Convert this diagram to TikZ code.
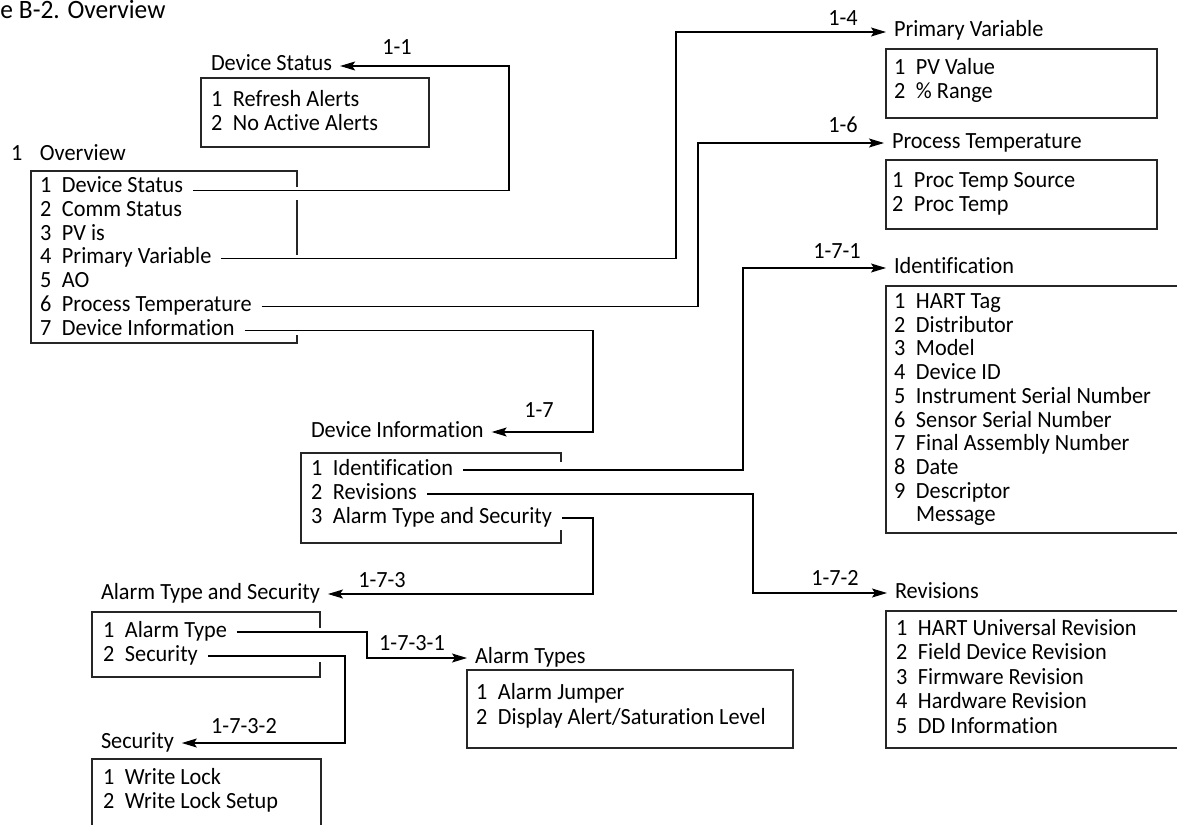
\documentclass[tikz,border=0pt]{standalone}
\usepackage{fontspec}
\setmainfont[Ligatures=NoCommon, FakeStretch=0.96]{Carlito}
\usetikzlibrary{positioning,calc,arrows.meta}

\begin{document}
\begin{tikzpicture}[x=1pt, y=-1pt, line width=1pt]
\tikzstyle{tStyle}=[anchor=west, inner sep=0pt, outer sep=0pt, text height=15pt,
text depth=5pt, font=\fontsize{23.2}{24}\selectfont]
\tikzstyle{iStyle}=[tStyle]
\tikzstyle{lStyle}=[inner sep=0pt, outer sep=0pt, font=\fontsize{23.2}{24}\selectfont]
\tikzstyle{bStyle}=[line width=1.2pt, black!85]
\tikzstyle{aStyle}=[-{Stealth[length=15pt,width=9pt,inset=3pt]}, line width=1.1pt,
shorten <=10pt, shorten >=8pt]

\clip (0,0) rectangle (1177,824);

\draw (0,19) node[anchor=base west, inner sep=0pt,
  font=\fontsize{26.5}{30}\selectfont] (fig) {e B-2. Overview};

% 1-1
\draw (211,66) node[tStyle] (dst) {Device Status};
\draw[bStyle] (201,78) rectangle (429,147);
\foreach \t [count=\k] in {Refresh Alerts, No Active Alerts}
	\draw (211,{102+24*(\k-1)}) node[iStyle] (dst\k) {\makebox[22pt][l]{\k}\t};

% 1
\draw (11,155) node[tStyle] (ov) {\makebox[29pt][l]{1}Overview};
\draw[bStyle] (297,187) -- (297,171) -- (31,171) -- (31,343) -- (297,343) -- (297,335)
  (297,200) -- (297,255);
\foreach \t [count=\k] in {Device Status, Comm Status, PV is, Primary Variable, AO,
  Process Temperature, Device Information}
	\draw (40,{187.5+23.8*(\k-1)}) node[iStyle] (ov\k) {\makebox[22pt][l]{\k}\t};

% 1-4
\draw (894,32) node[tStyle] (pv) {Primary Variable};
\draw[bStyle] (886,49) rectangle (1157,118);
\foreach \t [count=\k] in {PV Value, \% Range}
	\draw (894,{70+24*(\k-1)}) node[iStyle] (pv\k) {\makebox[22pt][l]{\k}\t};

% 1-6
\draw (892,143) node[tStyle] (pt) {Process Temperature};
\draw[bStyle] (886,160) rectangle (1157,229);
\foreach \t [count=\k] in {Proc Temp Source, Proc Temp}
	\draw (892,{182+24*(\k-1)}) node[iStyle] (pt\k) {\makebox[22pt][l]{\k}\t};

% 1-7
\draw (311,432) node[tStyle] (di) {Device Information};
\draw[bStyle] (561,462) -- (561,453) -- (301,453) -- (301,543) -- (561,543) -- (561,530);
\foreach \t [count=\k] in {Identification, Revisions, Alarm Type and Security}
	\draw (311,{470+24*(\k-1)}) node[iStyle] (di\k) {\makebox[22pt][l]{\k}\t};

% 1-7-1
\draw (894,268) node[tStyle] (id) {Identification};
\draw[bStyle] (886,286) rectangle (1200,533);
\foreach \t [count=\k] in {HART Tag, Distributor, Model, Device ID, Instrument Serial Number,
  Sensor Serial Number, Final Assembly Number, Date, Descriptor}
	\draw (894,{303.5+23.7*(\k-1)}) node[iStyle] (id\k) {\makebox[22pt][l]{\k}\t};
\draw (894,{303.5+23.7*9}) node[iStyle] (id10) {\makebox[22pt][l]{}Message};

% 1-7-2
\draw (895,593) node[tStyle] (rev) {Revisions};
\draw[bStyle] (886,611) rectangle (1200,748);
\foreach \t [count=\k] in {HART Universal Revision, Field Device Revision, Firmware Revision,
  Hardware Revision, DD Information}
	\draw (896,{630+24.5*(\k-1)}) node[iStyle] (rev\k) {\makebox[22pt][l]{\k}\t};

% 1-7-3
\draw (101,594) node[tStyle] (ats) {Alarm Type and Security};
\draw[bStyle] (320,628) -- (320,612) -- (92,612) -- (92,677) -- (320,677) -- (320,662);
\foreach \t [count=\k] in {Alarm Type, Security}
	\draw (103,{632+24*(\k-1)}) node[iStyle] (ats\k) {\makebox[22pt][l]{\k}\t};

% 1-7-3-1
\draw (475,658) node[tStyle] (atp) {Alarm Types};
\draw[bStyle] (467,670) rectangle (793,748);
\foreach \t [count=\k] in {Alarm Jumper, Display Alert/Saturation Level}
	\draw (476,{694+25*(\k-1)}) node[iStyle] (atp\k) {\makebox[22pt][l]{\k}\t};

% 1-7-3-2
\draw (101,743) node[tStyle] (sec) {Security};
\draw[bStyle] (92,840) -- (92,759) -- (321,759) -- (321,840);
\foreach \t [count=\k] in {Write Lock, Write Lock Setup}
	\draw (103,{779+24*(\k-1)}) node[iStyle] (sec\k) {\makebox[22pt][l]{\k}\t};

\coordinate (b11) at (509,0);
\coordinate (b14) at (676,0);
\coordinate (b16) at (698,0);
\coordinate (b17) at (593,0);
\coordinate (b171) at (743,0);
\coordinate (b172) at (753,0);
\coordinate (b173) at (593,0);
\coordinate (b1731) at (367,0);
\coordinate (b1732) at (345,0);

\draw[aStyle] ([yshift=-3pt]ov1.east) -| (b11 |- dst.east) -- (dst.east);
\draw[aStyle] (ov4.east) -| (b14 |- pv.west) -- (pv.west);
\draw[aStyle] (ov6.east) -| (b16 |- pt.west) -- (pt.west);
\draw[aStyle] (ov7.east) -| (b17 |- di.east) -- (di.east);
\draw[aStyle] (di1.east) -| (b171 |- id.west) -- (id.west);
\draw[aStyle] (di2.east) -| (b172 |- rev.west) -- (rev.west);
\draw[aStyle] (di3.east) -| (b173 |- ats.east) -- (ats.east);
\draw[aStyle] (ats1.east) -| (b1731 |- atp.west) -- (atp.west);
\draw[aStyle] (ats2.east) -| (b1732 |- sec.east) -- (sec.east);

\draw (397,47) node[lStyle] (l11) {1-1};
\draw (843,18) node[lStyle] (l14) {1-4};
\draw (843,125) node[lStyle] (l16) {1-6};
\draw (539,410) node[lStyle] (l17) {1-7};
\draw (837,251) node[lStyle] (l171) {1-7-1};
\draw (835,578) node[lStyle] (l172) {1-7-2};
\draw (382,580) node[lStyle] (l173) {1-7-3};
\draw (412,643) node[lStyle] (l1731) {1-7-3-1};
\draw (244,726) node[lStyle] (l1732) {1-7-3-2};
\end{tikzpicture}
\end{document}
